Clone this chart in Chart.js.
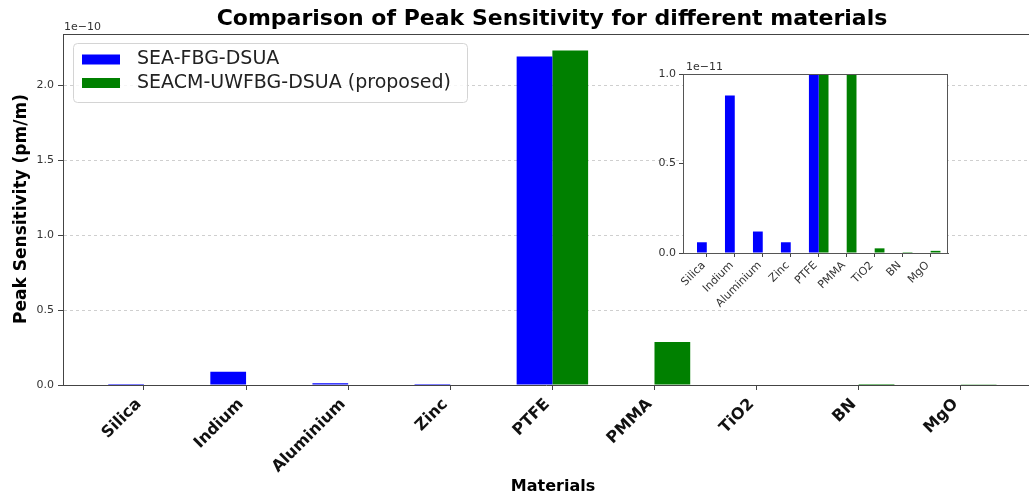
<!DOCTYPE html>
<html><head><meta charset="utf-8">
<script src="https://cdn.jsdelivr.net/npm/chart.js@4.4.1/dist/chart.umd.min.js"></script>
<style>
html,body{margin:0;padding:0;background:#fff;overflow:hidden}
#wrap{position:relative;width:1029px;height:495px}
#main{position:absolute;left:0;top:0}
#inset{position:absolute;left:630px;top:50px}
</style></head><body>
<div id="wrap">
  <canvas id="main" width="1029" height="495"></canvas>
  <canvas id="inset" width="330" height="270"></canvas>
</div>
<script>
const materials = ['Silica','Indium','Aluminium','Zinc','PTFE','PMMA','TiO2','BN','MgO'];
const seaFbg    = [6e-13, 8.8e-12, 1.2e-12, 6e-13, 2.19e-10, 0, 0, 0, 0];
const seacm     = [0, 0, 0, 0, 2.23e-10, 2.87e-11, 2.6e-13, 5e-14, 1.2e-13];
const mainTicks  = [0, 0.5, 1.0, 1.5, 2.0];   // x 1e-10
const insetTicks = [0, 0.5, 1.0];             // x 1e-11
const seriesNames = ['SEA-FBG-DSUA', 'SEACM-UWFBG-DSUA (proposed)'];

const FONT = "'DejaVu Sans', sans-serif";
Chart.defaults.font.family = FONT;
Chart.defaults.color = '#222';

const pts = arr => arr.map((v, i) => ({ x: i, y: v }));
const datasets = () => [
  { label: seriesNames[0], data: pts(seaFbg), backgroundColor: '#0000ff', borderWidth: 0 },
  { label: seriesNames[1], data: pts(seacm),  backgroundColor: '#008000', borderWidth: 0 },
];

const mainDeco = {
  id: 'mainDeco',
  afterDraw(c) {
    const ctx = c.ctx, a = c.chartArea;
    ctx.save();
    // top spine
    ctx.strokeStyle = '#444'; ctx.lineWidth = 1;
    ctx.beginPath(); ctx.moveTo(a.left, a.top + 0.5); ctx.lineTo(a.right, a.top + 0.5); ctx.stroke();
    ctx.fillStyle = '#000';
    ctx.textAlign = 'center'; ctx.textBaseline = 'middle';
    ctx.font = "bold 22px " + FONT;
    ctx.fillText('Comparison of Peak Sensitivity for different materials', 552, 19);
    ctx.font = "bold 16px " + FONT;
    ctx.fillText('Materials', 553, 487);
    ctx.save();
    ctx.translate(22, 209); ctx.rotate(-Math.PI / 2);
    ctx.font = "bold 17px " + FONT;
    ctx.fillText('Peak Sensitivity (pm/m)', 0, 0);
    ctx.restore();
    ctx.font = "11px " + FONT; ctx.fillStyle = '#333'; ctx.textAlign = 'left';
    ctx.fillText('1e\u221210', 64, 27);
    // legend
    ctx.beginPath(); ctx.roundRect(73.5, 43.5, 394, 59, 4);
    ctx.fillStyle = 'rgba(255,255,255,0.8)'; ctx.fill();
    ctx.strokeStyle = '#d4d4d4'; ctx.stroke();
    const rows = [59.5, 83];
    c.data.datasets.forEach((ds, i) => {
      ctx.fillStyle = ds.backgroundColor;
      ctx.fillRect(82, rows[i] - 5, 38, 10);
      ctx.fillStyle = '#222'; ctx.font = "19px " + FONT;
      ctx.fillText(ds.label, 137, rows[i]);
    });
    ctx.restore();
  }
};

new Chart(document.getElementById('main'), {
  type: 'bar',
  data: { datasets: datasets() },
  plugins: [mainDeco],
  options: {
    responsive: false, animation: false,
    layout: { padding: { top: 34, right: 0, left: 0, bottom: 0 } },
    datasets: { bar: { barPercentage: 1, categoryPercentage: 0.7, grouped: true } },
    plugins: { legend: { display: false }, tooltip: { enabled: false } },
    scales: {
      x: {
        type: 'linear', min: -0.793, max: 8.668, offset: false,
        afterBuildTicks: s => { s.ticks = materials.map((m, i) => ({ value: i })); },
        afterFit: s => { s.height = 110; },
        ticks: { callback: v => materials[v], autoSkip: false, minRotation: 45, maxRotation: 45,
                 font: { size: 16, weight: 'bold' }, color: '#111', padding: 5, labelOffset: -5 },
        grid: { offset: false, drawOnChartArea: false, tickLength: 5, tickColor: '#444' },
        border: { color: '#444', width: 1 },
      },
      y: {
        min: 0, max: 2.34e-10,
        afterBuildTicks: s => { s.ticks = mainTicks.map(v => ({ value: v * 1e-10 })); },
        afterFit: s => { s.width = 63; },
        ticks: { callback: v => (v / 1e-10).toFixed(1), font: { size: 11 }, color: '#333', padding: 4 },
        grid: { color: c => c.tick && c.tick.value === 0 ? 'rgba(0,0,0,0)' : '#cfcfcf',
                tickLength: 5, tickColor: '#444' },
        border: { color: '#444', width: 1, dash: [3, 3] },
      }
    }
  }
});

const insetDeco = {
  id: 'insetDeco',
  beforeDraw(c) {
    const ctx = c.ctx, a = c.chartArea;
    ctx.save(); ctx.fillStyle = '#fff';
    ctx.fillRect(a.left, a.top, a.right - a.left, a.bottom - a.top);
    ctx.restore();
  },
  afterDraw(c) {
    const ctx = c.ctx, a = c.chartArea;
    ctx.save();
    ctx.strokeStyle = '#555'; ctx.lineWidth = 1;
    ctx.strokeRect(a.left + 0.5, a.top + 0.5, a.right - a.left - 1, a.bottom - a.top);
    ctx.fillStyle = '#333'; ctx.font = "11px " + FONT;
    ctx.textAlign = 'left'; ctx.textBaseline = 'middle';
    ctx.fillText('1e\u221211', 56, 17);
    ctx.restore();
  }
};

new Chart(document.getElementById('inset'), {
  type: 'bar',
  data: { datasets: datasets() },
  plugins: [insetDeco],
  options: {
    responsive: false, animation: false,
    layout: { padding: { top: 24, right: 12, left: 0, bottom: 0 } },
    datasets: { bar: { barPercentage: 1, categoryPercentage: 0.7, grouped: true } },
    plugins: { legend: { display: false }, tooltip: { enabled: false } },
    scales: {
      x: {
        type: 'linear', min: -0.85, max: 8.62, offset: false,
        afterBuildTicks: s => { s.ticks = materials.map((m, i) => ({ value: i })); },
        afterFit: s => { s.height = 67; },
        ticks: { callback: v => materials[v], autoSkip: false, minRotation: 45, maxRotation: 45,
                 font: { size: 11 }, color: '#333', padding: 2, labelOffset: -3 },
        grid: { offset: false, drawOnChartArea: false, tickLength: 4, tickColor: '#444' },
        border: { color: '#555', width: 1 },
      },
      y: {
        min: 0, max: 1e-11,
        afterBuildTicks: s => { s.ticks = insetTicks.map(v => ({ value: v * 1e-11 })); },
        afterFit: s => { s.width = 53; },
        ticks: { callback: v => (v / 1e-11).toFixed(1), font: { size: 11 }, color: '#333', padding: 3 },
        grid: { drawOnChartArea: false, tickLength: 4, tickColor: '#444' },
        border: { color: '#555', width: 1 },
      }
    }
  }
});
</script>
</body></html>
